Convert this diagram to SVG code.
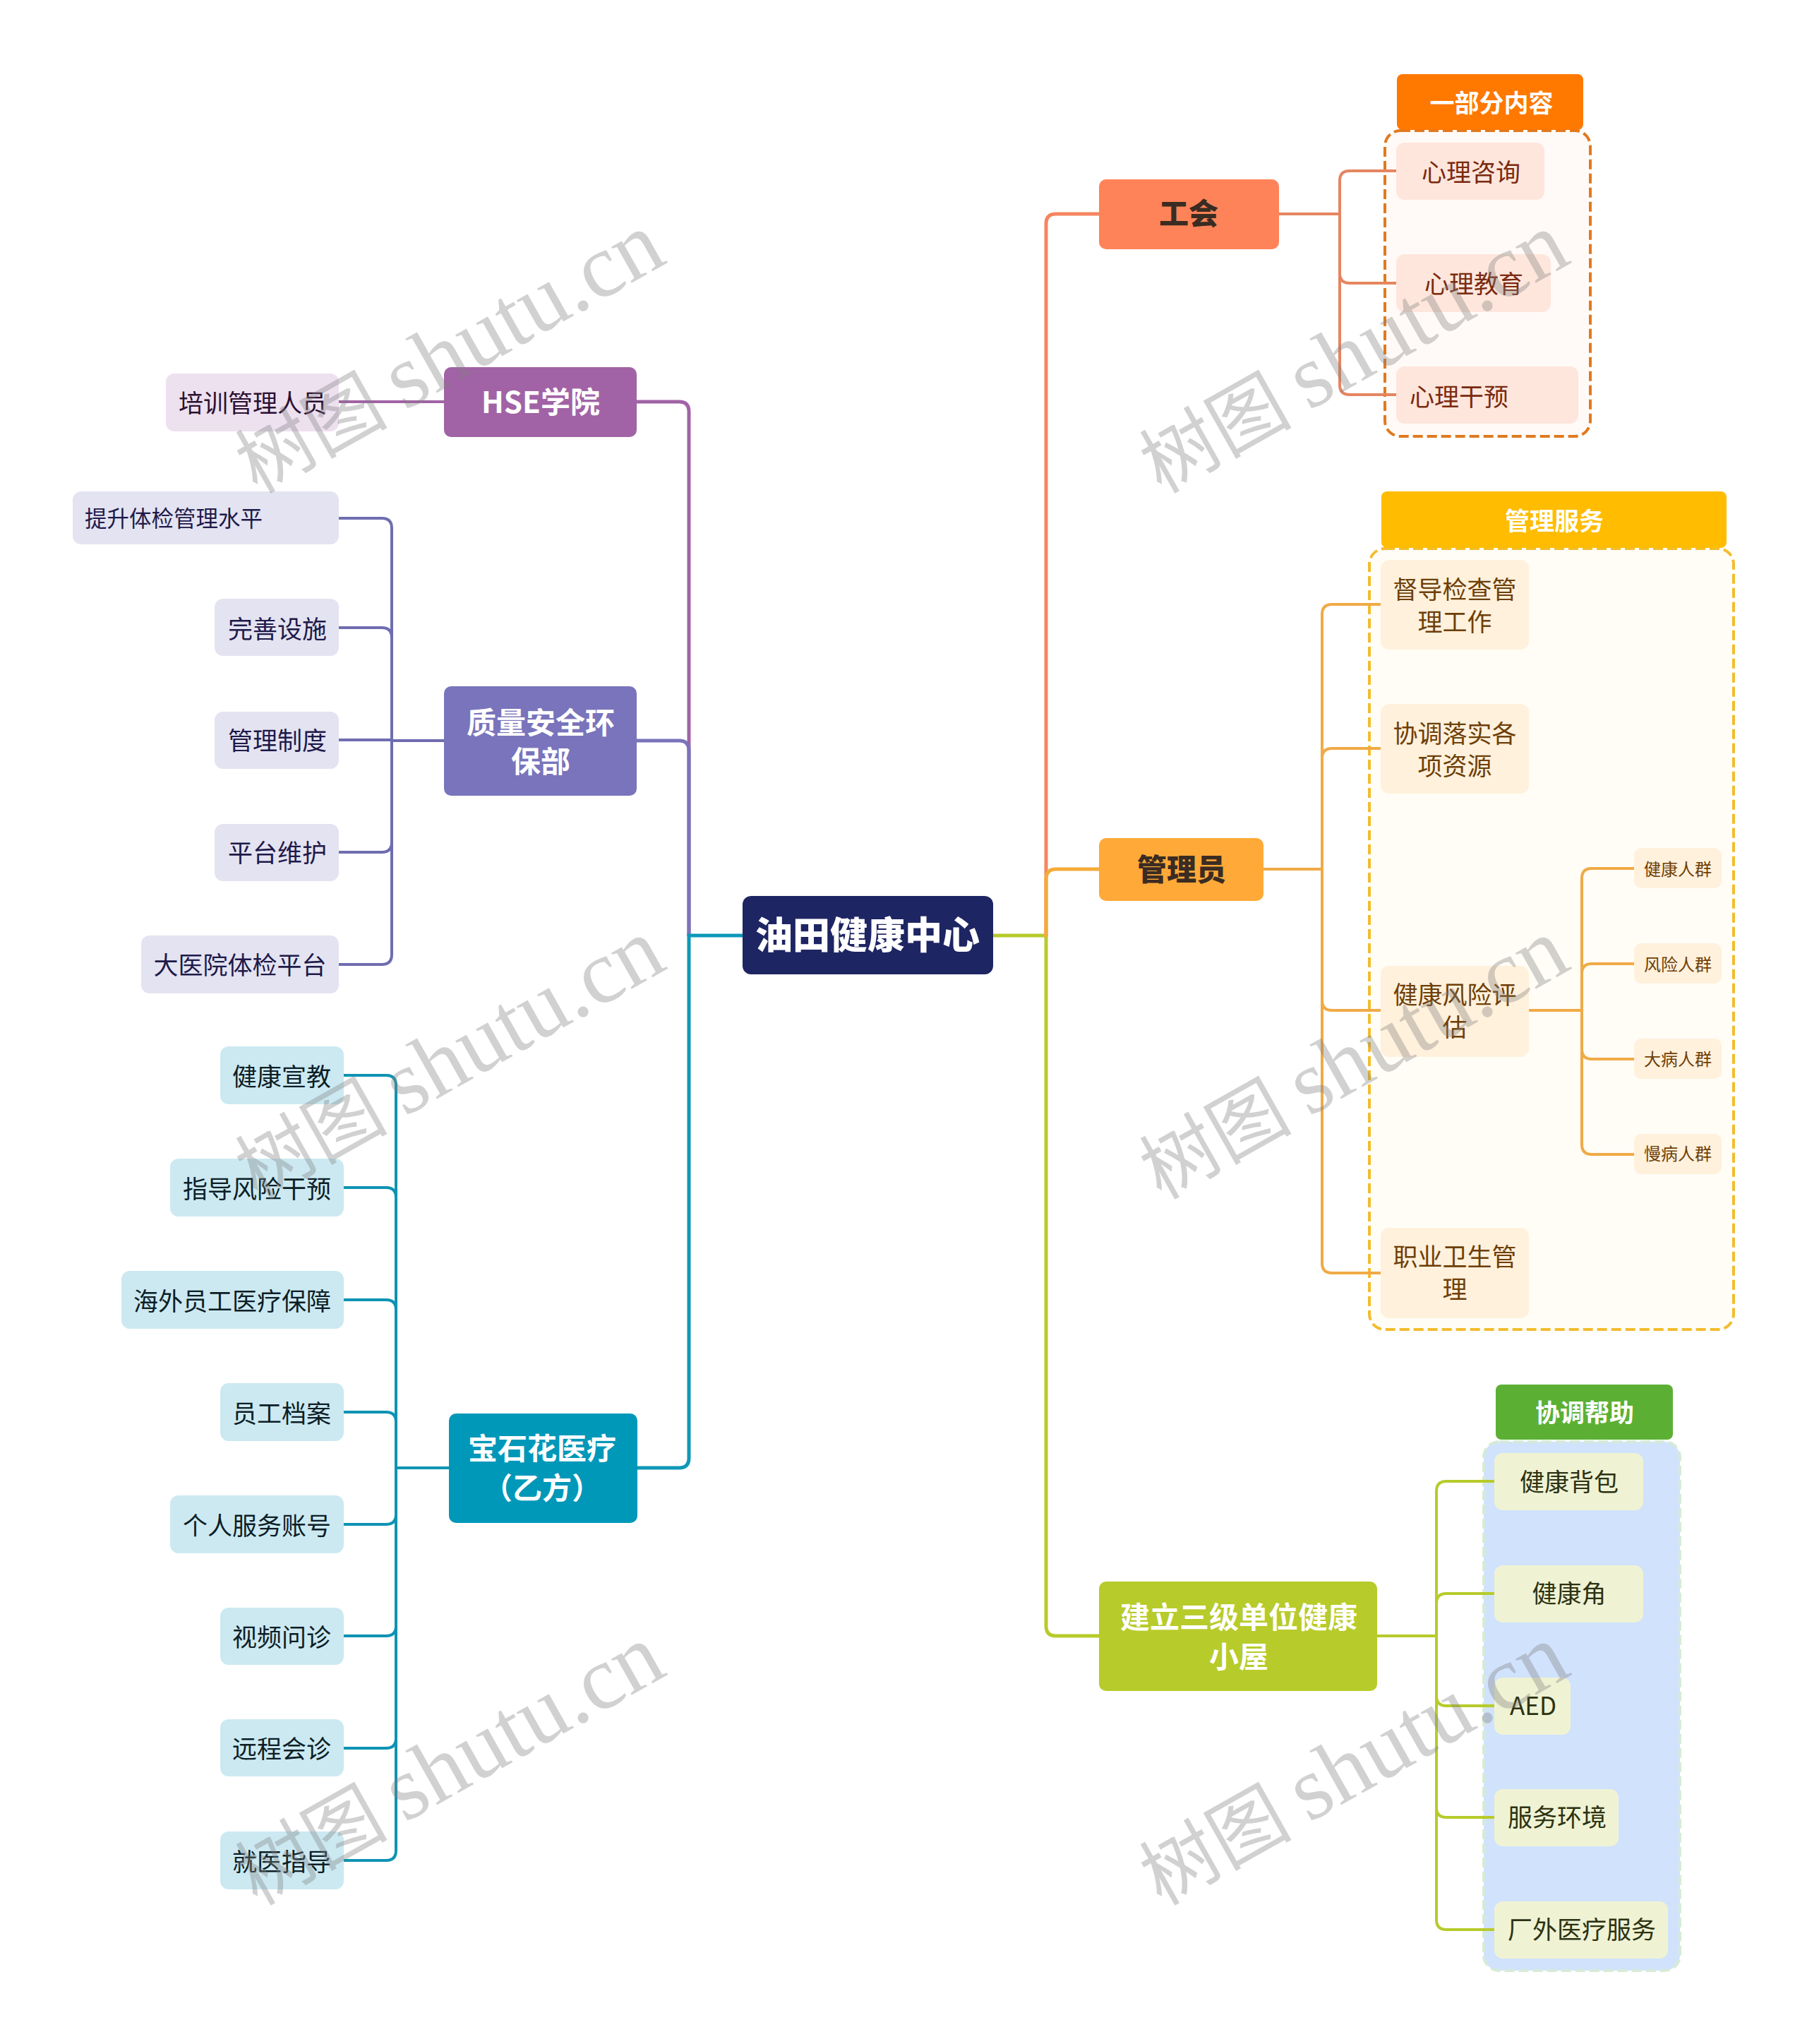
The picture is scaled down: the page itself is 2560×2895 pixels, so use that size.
<svg xmlns="http://www.w3.org/2000/svg" width="2560" height="2895" viewBox="0 0 2560 2895">
<style>
text{font-family:"Noto Sans CJK SC","Noto Sans",sans-serif;text-anchor:middle}
.t0{font-size:53px;font-weight:900;fill:#fff}
.t1{font-size:42px;font-weight:700;fill:#fff}
.t1d{font-size:42px;font-weight:900;fill:#3a2c22}
.h{font-size:35px;font-weight:700;fill:#fff}
.l{font-size:35px}
.s{font-size:24px}
.st{text-anchor:start}
.c{fill:none;stroke-width:5;stroke-linecap:round}
.d{fill:none;stroke-width:4}
.wm{font-family:"Liberation Serif","Noto Sans CJK SC",serif;font-size:128px;fill:#808080;fill-opacity:.36;text-anchor:start}
.wm .z{font-family:"Noto Sans CJK SC",serif;font-size:108px}
.fa rect{fill:#FEE6DC}.fa text{fill:#7A2A10}
.fb rect{fill:#FFF1DC}.fb text{fill:#6E3F08}
.fc rect{fill:#EFF3D4}.fc text{fill:#2D3212}
.fd rect{fill:#EDE0EF}.fd text{fill:#2A1030}
.fe rect{fill:#E4E3F1}.fe text{fill:#1E1A4A}
.ff rect{fill:#CCE9F2}.ff text{fill:#0D1E26}
</style>
<rect width="2560" height="2895" fill="#fff"/>
<g id="frames">
<rect x="1962" y="185" width="291" height="433" rx="22" fill="#FFFAF7" stroke="#E07A1F" stroke-width="4" stroke-dasharray="14 6"/>
<rect x="1940" y="777" width="516" height="1106" rx="22" fill="#FFFDF6" stroke="#F2BC2E" stroke-width="4" stroke-dasharray="14 6"/>
<rect x="2102" y="2042" width="278" height="749" rx="22" fill="#D0E2FC" stroke="#D6EBD6" stroke-width="4" stroke-dasharray="14 6"/>
</g>
<g id="connectors">
<path class="c" stroke="#B7CB2A" d="M1406 1325H1482V2303Q1482 2317 1496 2317H1557"/>
<path class="c" stroke="#F58560" d="M1482 1325V317Q1482 303 1496 303H1557"/>
<path class="c" stroke="#F5AB3A" d="M1482 1325V1245Q1482 1231 1496 1231H1557"/>
<path class="c" stroke="#A163A5" d="M976 1325V583Q976 569 962 569H902"/>
<path class="c" stroke="#7974BB" d="M976 1325V1063Q976 1049 962 1049H902"/>
<path class="c" stroke="#0E98B8" d="M1052 1325H976V2065Q976 2079 962 2079H902"/>
<g stroke="#E58560">
<path class="d" d="M1812 303H1898"/>
<path class="d" d="M1978 242H1912Q1898 242 1898 256V545Q1898 559 1912 559H1978M1898 387Q1898 401 1912 401H1978"/>
</g>
<g stroke="#F0AA46">
<path class="d" d="M1790 1231H1873"/>
<path class="d" d="M1956 856H1887Q1873 856 1873 870V1789Q1873 1803 1887 1803H1956M1887 1060Q1873 1060 1873 1074M1873 1417Q1873 1431 1887 1431H1956M1887 1060H1956"/>
<path class="d" d="M2166 1431H2241"/>
<path class="d" d="M2315 1230H2255Q2241 1230 2241 1244V1621Q2241 1635 2255 1635H2315M2255 1365Q2241 1365 2241 1379M2255 1365H2315M2241 1486Q2241 1500 2255 1500H2315"/>
</g>
<g stroke="#B7CB2A">
<path class="d" d="M1951 2317H2035"/>
<path class="d" d="M2117 2098H2049Q2035 2098 2035 2112V2719Q2035 2733 2049 2733H2117M2049 2257Q2035 2257 2035 2271M2049 2257H2117M2035 2402Q2035 2416 2049 2416H2117M2035 2560Q2035 2574 2049 2574H2117"/>
</g>
<g stroke="#A163A5"><path class="d" d="M480 569H629"/></g>
<g stroke="#6F6DB0">
<path class="d" d="M629 1049H555"/>
<path class="d" d="M480 734H541Q555 734 555 748V1352Q555 1366 541 1366H480M480 889H541Q555 889 555 903M480 1048H555M555 1193Q555 1207 541 1207H480"/>
</g>
<g stroke="#0E93B3">
<path class="d" d="M636 2079H561"/>
<path class="d" d="M487 1523H547Q561 1523 561 1537V2621Q561 2635 547 2635H487M487 1682H547Q561 1682 561 1696M487 1841H547Q561 1841 561 1855M487 2000H547Q561 2000 561 2014M561 2145Q561 2159 547 2159H487M561 2303Q561 2317 547 2317H487M561 2462Q561 2476 547 2476H487"/>
</g>
</g>
<g id="n-root"><rect x="1052" y="1269" width="355" height="111" rx="12" fill="#1E2563"/><text class="t0" x="1229" y="1344">油田健康中心</text></g>
<g id="n-gonghui"><rect x="1557" y="254" width="255" height="99" rx="10" fill="#FF8358"/><text class="t1d" x="1684" y="318">工会</text></g>
<g id="n-admin"><rect x="1557" y="1187" width="233" height="89" rx="10" fill="#FFA938"/><text class="t1d" x="1674" y="1247">管理员</text></g>
<g id="n-hut"><rect x="1557" y="2240" width="394" height="155" rx="10" fill="#B7CB2A"/><text class="t1" x="1755" y="2306">建立三级单位健康</text><text class="t1" x="1755" y="2362">小屋</text></g>
<g id="n-hse"><rect x="629" y="520" width="273" height="99" rx="10" fill="#A163A5"/><text class="t1" x="766" y="585">HSE学院</text></g>
<g id="n-qse"><rect x="629" y="972" width="273" height="155" rx="10" fill="#7974BB"/><text class="t1" x="766" y="1039">质量安全环</text><text class="t1" x="766" y="1094">保部</text></g>
<g id="n-bsh"><rect x="636" y="2002" width="267" height="155" rx="10" fill="#0098B9"/><text class="t1" x="768" y="2067">宝石花医疗</text><text class="t1" x="768" y="2123">（乙方）</text></g>

<g id="h-yibufen"><rect x="1979" y="105" width="264" height="79" rx="8" fill="#FF7800"/><text class="h" x="2113" y="159">一部分内容</text></g>
<g id="h-guanli"><rect x="1957" y="696" width="489" height="80" rx="8" fill="#FFBC00"/><text class="h" x="2202" y="751">管理服务</text></g>
<g id="h-xietiao"><rect x="2119" y="1961" width="251" height="78" rx="8" fill="#5BB034"/><text class="h" x="2245" y="2014">协调帮助</text></g>

<g id="a1" class="fa"><rect x="1978" y="202" width="210" height="81" rx="12"/><text class="l" x="2084" y="257">心理咨询</text></g>
<g id="a2" class="fa"><rect x="1978" y="360" width="219" height="82" rx="12"/><text class="l" x="2088" y="415">心理教育</text></g>
<g id="a3" class="fa"><rect x="1978" y="519" width="258" height="81" rx="12"/><text class="l st" x="1997" y="575">心理干预</text></g>

<g id="b1" class="fb"><rect x="1956" y="793" width="210" height="127" rx="12"/><text class="l" x="2061" y="848">督导检查管</text><text class="l" x="2061" y="894">理工作</text></g>
<g id="b2" class="fb"><rect x="1956" y="997" width="210" height="127" rx="12"/><text class="l" x="2061" y="1052">协调落实各</text><text class="l" x="2061" y="1098">项资源</text></g>
<g id="b3" class="fb"><rect x="1956" y="1368" width="210" height="129" rx="12"/><text class="l" x="2061" y="1422">健康风险评</text><text class="l" x="2061" y="1468">估</text></g>
<g id="b4" class="fb"><rect x="1956" y="1739" width="210" height="128" rx="12"/><text class="l" x="2061" y="1793">职业卫生管</text><text class="l" x="2061" y="1839">理</text></g>
<g id="b31" class="fb"><rect x="2315" y="1201" width="124" height="57" rx="10"/><text class="s" x="2377" y="1240">健康人群</text></g>
<g id="b32" class="fb"><rect x="2315" y="1336" width="124" height="57" rx="10"/><text class="s" x="2377" y="1375">风险人群</text></g>
<g id="b33" class="fb"><rect x="2315" y="1471" width="124" height="57" rx="10"/><text class="s" x="2377" y="1509">大病人群</text></g>
<g id="b34" class="fb"><rect x="2315" y="1606" width="124" height="57" rx="10"/><text class="s" x="2377" y="1643">慢病人群</text></g>

<g id="c1" class="fc"><rect x="2117" y="2058" width="211" height="81" rx="12"/><text class="l" x="2223" y="2112">健康背包</text></g>
<g id="c2" class="fc"><rect x="2117" y="2217" width="211" height="81" rx="12"/><text class="l" x="2223" y="2270">健康角</text></g>
<g id="c3" class="fc"><rect x="2117" y="2376" width="108" height="81" rx="12"/><text class="l" x="2172" y="2429">AED</text></g>
<g id="c4" class="fc"><rect x="2117" y="2534" width="176" height="81" rx="12"/><text class="l" x="2206" y="2587">服务环境</text></g>
<g id="c5" class="fc"><rect x="2117" y="2693" width="246" height="81" rx="12"/><text class="l" x="2241" y="2746">厂外医疗服务</text></g>

<g id="d1" class="fd"><rect x="235" y="529" width="245" height="82" rx="12"/><text class="l" x="358" y="584">培训管理人员</text></g>

<g id="e1" class="fe"><rect x="103" y="696" width="377" height="75" rx="12"/><text style="font-size:31.5px;text-anchor:start" x="120" y="746">提升体检管理水平</text></g>
<g id="e2" class="fe"><rect x="304" y="848" width="176" height="81" rx="12"/><text class="l" x="393" y="904">完善设施</text></g>
<g id="e3" class="fe"><rect x="304" y="1008" width="176" height="81" rx="12"/><text class="l" x="393" y="1062">管理制度</text></g>
<g id="e4" class="fe"><rect x="304" y="1167" width="176" height="81" rx="12"/><text class="l" x="393" y="1221">平台维护</text></g>
<g id="e5" class="fe"><rect x="200" y="1325" width="280" height="82" rx="12"/><text class="l" x="340" y="1380">大医院体检平台</text></g>

<g id="f1" class="ff"><rect x="312" y="1482" width="175" height="82" rx="12"/><text class="l" x="399" y="1538">健康宣教</text></g>
<g id="f2" class="ff"><rect x="241" y="1641" width="246" height="82" rx="12"/><text class="l" x="364" y="1697">指导风险干预</text></g>
<g id="f3" class="ff"><rect x="172" y="1800" width="315" height="82" rx="12"/><text class="l" x="329" y="1856">海外员工医疗保障</text></g>
<g id="f4" class="ff"><rect x="312" y="1959" width="175" height="82" rx="12"/><text class="l" x="399" y="2015">员工档案</text></g>
<g id="f5" class="ff"><rect x="241" y="2118" width="246" height="82" rx="12"/><text class="l" x="364" y="2174">个人服务账号</text></g>
<g id="f6" class="ff"><rect x="312" y="2277" width="175" height="81" rx="12"/><text class="l" x="399" y="2332">视频问诊</text></g>
<g id="f7" class="ff"><rect x="312" y="2435" width="175" height="81" rx="12"/><text class="l" x="399" y="2490">远程会诊</text></g>
<g id="f8" class="ff"><rect x="312" y="2594" width="175" height="82" rx="12"/><text class="l" x="399" y="2650">就医指导</text></g>

<g id="watermarks">
<text class="wm" transform="translate(364 700) rotate(-29.4)"><tspan class="z">树图 </tspan>shutu.cn</text>
<text class="wm" transform="translate(1645 700) rotate(-29.4)"><tspan class="z">树图 </tspan>shutu.cn</text>
<text class="wm" transform="translate(364 1700) rotate(-29.4)"><tspan class="z">树图 </tspan>shutu.cn</text>
<text class="wm" transform="translate(1645 1700) rotate(-29.4)"><tspan class="z">树图 </tspan>shutu.cn</text>
<text class="wm" transform="translate(364 2700) rotate(-29.4)"><tspan class="z">树图 </tspan>shutu.cn</text>
<text class="wm" transform="translate(1645 2700) rotate(-29.4)"><tspan class="z">树图 </tspan>shutu.cn</text>
</g>
</svg>
